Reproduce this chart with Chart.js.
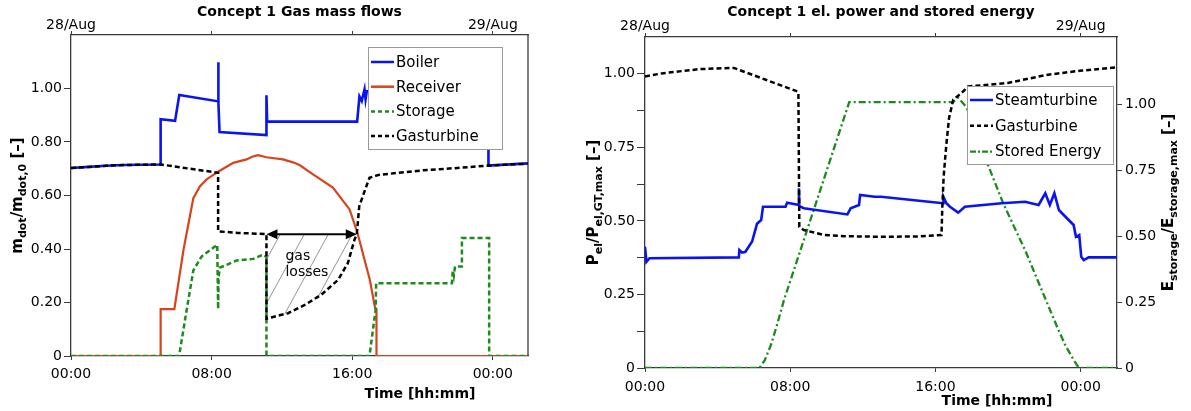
<!DOCTYPE html>
<html>
<head>
<meta charset="utf-8">
<script src="https://cdn.jsdelivr.net/npm/chart.js@4.4.0/dist/chart.umd.min.js"></script>
<style>
    html, body { margin: 0; padding: 0; background: #fff; }
    #wrap { position: relative; width: 1191px; height: 411px; }
    #gasChart { position: absolute; left: 0; top: 0; }
    #powerChart { position: absolute; left: 560px; top: 0; }
</style>
</head>
<body>
<div id="wrap">
    <canvas id="gasChart" width="560" height="411" style="width:560px;height:411px"></canvas>
    <canvas id="powerChart" width="631" height="411" style="width:631px;height:411px"></canvas>
</div>
<script>
// time axis (hours from 28/Aug 00:00)
const hourTicks = [0, 8, 16, 24];
const bottomLabels = ['00:00', '08:00', '16:00', '00:00'];
const topLabels = ['28/Aug', '', '', '29/Aug'];

// --- left chart: gas mass flows ---
const gasTicks = [0, 0.2, 0.4, 0.6, 0.8, 1.0];

const boilerT = [0, 1, 2, 3, 4, 5.1, 5.1, 5.92, 6.16, 8.37, 8.37, 8.4, 8.45, 11.12, 11.12, 11.16, 16.28, 16.41, 16.54, 16.7, 16.76, 16.83, 20, 23.75, 23.75, 26];
const boilerV = [0.703, 0.707, 0.711, 0.714, 0.715, 0.716, 0.885, 0.879, 0.976, 0.952, 1.098, 0.95, 0.837, 0.826, 0.975, 0.876, 0.876, 0.97, 0.953, 0.997, 0.96, 0.99, 1.0, 1.0, 0.712, 0.72];

const receiverT = [0, 5.1, 5.1, 5.88, 6.4, 6.96, 7.34, 7.72, 8.37, 9.23, 9.99, 10.3, 10.64, 11.12, 12.06, 12.63, 13.0, 13.77, 14.9, 15.85, 16.3, 16.7, 17.0, 17.3, 17.38, 17.38, 26];
const receiverV = [0, 0, 0.175, 0.175, 0.397, 0.59, 0.635, 0.66, 0.689, 0.722, 0.735, 0.745, 0.751, 0.743, 0.735, 0.724, 0.714, 0.679, 0.63, 0.548, 0.46, 0.36, 0.285, 0.18, 0.175, 0, 0];

const storageT = [0, 6.15, 6.58, 6.96, 7.43, 8.32, 8.37, 8.4, 8.47, 9.42, 10.36, 10.93, 11.12, 11.12, 16.98, 17.33, 17.36, 21.67, 21.72, 21.78, 21.85, 22.24, 22.24, 23.79, 23.79, 26];
const storageV = [0, 0, 0.172, 0.32, 0.372, 0.416, 0.175, 0.297, 0.33, 0.357, 0.363, 0.379, 0.37, 0, 0, 0.172, 0.272, 0.272, 0.32, 0.3, 0.335, 0.335, 0.441, 0.441, 0, 0];

const gasturbT = [0, 1, 2, 3, 4, 5.1, 8.37, 8.37, 9.5, 11.12, 11.12, 11.5, 12.35, 13.3, 14.24, 15.2, 15.75, 16.13, 16.26, 16.4, 16.75, 16.98, 17.5, 20, 22, 23.75, 26];
const gasturbV = [0.703, 0.707, 0.711, 0.714, 0.715, 0.716, 0.685, 0.466, 0.46, 0.456, 0.14, 0.146, 0.16, 0.191, 0.229, 0.285, 0.347, 0.435, 0.455, 0.56, 0.625, 0.666, 0.677, 0.694, 0.703, 0.712, 0.719];

// gas losses annotation (hours / value)
const lossStart = 11.12;
const lossEnd = 16.26;
const lossLevel = 0.455;

// --- right chart: el. power and stored energy ---
const powerTicks = [0, 0.125, 0.25, 0.375, 0.5, 0.625, 0.75, 0.875, 1.0];
const storeTicks = [0, 0.25, 0.5, 0.75, 1.0];

const steamT = [0, 0.08, 0.25, 5.17, 5.2, 5.35, 5.53, 5.9, 6.17, 6.4, 6.5, 7.74, 7.83, 8.48, 8.48, 8.5, 8.75, 11.15, 11.33, 11.79, 11.85, 12.65, 13.0, 16.42, 16.44, 16.6, 16.8, 17.25, 17.62, 19.65, 20.94, 21.68, 22.05, 22.3, 22.55, 22.8, 22.97, 23.61, 23.74, 23.92, 24.03, 24.17, 24.44, 26];
const steamV = [0.412, 0.361, 0.373, 0.376, 0.401, 0.392, 0.395, 0.43, 0.49, 0.503, 0.548, 0.548, 0.562, 0.554, 0.611, 0.55, 0.543, 0.522, 0.543, 0.554, 0.588, 0.582, 0.582, 0.56, 0.582, 0.56, 0.548, 0.528, 0.548, 0.56, 0.565, 0.554, 0.594, 0.554, 0.594, 0.537, 0.526, 0.486, 0.446, 0.452, 0.378, 0.367, 0.376, 0.376];

const gtT = [0, 1, 2, 3.04, 4.89, 8.39, 8.45, 8.5, 8.75, 9.86, 11, 13, 15, 16.33, 16.38, 16.45, 16.6, 16.75, 16.98, 17.44, 17.8, 19, 20, 22.2, 24.07, 26];
const gtV = [0.991, 1.002, 1.009, 1.016, 1.02, 0.94, 0.935, 0.48, 0.469, 0.452, 0.448, 0.446, 0.447, 0.452, 0.55, 0.65, 0.76, 0.85, 0.912, 0.935, 0.957, 0.963, 0.969, 0.997, 1.011, 1.022];

const storedT = [0, 6.3, 6.6, 6.95, 7.3, 7.65, 9.47, 11.25, 16.97, 17.25, 17.7, 18.9, 19.74, 20.94, 21.86, 22.78, 23.2, 23.52, 23.8, 23.98, 26];
const storedV = [0, 0, 0.03, 0.09, 0.17, 0.257, 0.637, 1.01, 1.01, 1.027, 0.991, 0.77, 0.624, 0.447, 0.295, 0.143, 0.08, 0.042, 0.01, 0, 0];

const BLUE = '#0a14f0';
const RED = '#d8431b';
const GREEN = '#1c8a1c';
const BLACK = '#000';
const AXIS = '#3a3a3a';
const FONT = '"DejaVu Sans", Verdana, sans-serif';

function pts(t, v) {
    return t.map((x, i) => ({ x: x, y: v[i] }));
}

function hatchPattern() {
    const c = document.createElement('canvas');
    c.width = 24;
    c.height = 44;
    const g = c.getContext('2d');
    g.strokeStyle = '#666';
    g.lineWidth = 0.7;
    g.beginPath();
    for (let k = -1; k <= 1; k++) {
        g.moveTo(k * 24, 44);
        g.lineTo(k * 24 + 24, 0);
    }
    g.stroke();
    return g.createPattern(c, 'repeat');
}

// rotated axis title with subscripts
function drawRich(ctx, x, y, parts) {
    ctx.save();
    ctx.translate(x, y);
    ctx.rotate(-Math.PI / 2);
    ctx.textBaseline = 'alphabetic';
    ctx.textAlign = 'left';
    ctx.fillStyle = '#000';
    let total = 0;
    parts.forEach(p => {
        ctx.font = 'bold ' + (p[1] ? 11 : 15) + 'px ' + FONT;
        p.w = ctx.measureText(p[0]).width;
        total += p.w;
    });
    let cx = -total / 2;
    parts.forEach(p => {
        ctx.font = 'bold ' + (p[1] ? 11 : 15) + 'px ' + FONT;
        ctx.fillText(p[0], cx, p[1] ? 4 : 0);
        cx += p.w;
    });
    ctx.restore();
}

function drawLegend(ctx, box, entries) {
    ctx.save();
    ctx.fillStyle = '#fff';
    ctx.fillRect(box.x, box.y, box.w, box.h);
    ctx.strokeStyle = '#9a9a9a';
    ctx.lineWidth = 1;
    ctx.strokeRect(box.x + 0.5, box.y + 0.5, box.w, box.h);
    entries.forEach((e, i) => {
        const y = box.y + box.first + i * box.step;
        ctx.beginPath();
        ctx.setLineDash(e.dash);
        ctx.strokeStyle = e.color;
        ctx.lineWidth = e.width;
        ctx.moveTo(box.x + 3, y);
        ctx.lineTo(box.x + 26, y);
        ctx.stroke();
        ctx.setLineDash([]);
        ctx.fillStyle = '#000';
        ctx.font = '15px ' + FONT;
        ctx.textAlign = 'left';
        ctx.textBaseline = 'middle';
        ctx.fillText(e.label, box.x + 28, y + 1);
    });
    ctx.restore();
}

function timeScales(bottomH, topH, bottomPad, topPad) {
    const tickFont = { family: FONT, size: 14 };
    return {
        x: {
            type: 'linear', position: 'bottom', min: 0, max: 26,
            afterBuildTicks: s => { s.ticks = hourTicks.map(v => ({ value: v })); },
            afterFit: s => { s.height = bottomH; },
            ticks: { callback: (v, i) => bottomLabels[i], font: tickFont, color: '#000', padding: bottomPad, maxRotation: 0, autoSkip: false },
            grid: { drawOnChartArea: false, drawTicks: true, tickLength: 4, tickColor: AXIS },
            border: { display: true, color: AXIS, width: 1.3 }
        },
        xTop: {
            type: 'linear', axis: 'x', position: 'top', min: 0, max: 26,
            afterBuildTicks: s => { s.ticks = hourTicks.map(v => ({ value: v })); },
            afterFit: s => { s.height = topH; },
            ticks: { callback: (v, i) => topLabels[i], font: tickFont, color: '#000', padding: topPad, maxRotation: 0, autoSkip: false },
            grid: { drawOnChartArea: false, drawTicks: true, tickLength: 4, tickColor: AXIS },
            border: { display: true, color: AXIS, width: 1.3 }
        }
    };
}

function yScale(pos, max, list, width, tickLen, pad, labelled) {
    return {
        type: 'linear', position: pos, min: 0, max: max,
        afterBuildTicks: s => { s.ticks = list.map(v => ({ value: v })); },
        afterFit: s => { s.width = width; },
        ticks: {
            callback: v => (labelled(v) ? (v === 0 ? '0' : v.toFixed(2)) : ''),
            font: { family: FONT, size: 14 }, color: '#000', padding: pad, autoSkip: false
        },
        grid: { drawOnChartArea: false, drawTicks: true, tickLength: tickLen, tickColor: AXIS },
        border: { display: true, color: AXIS, width: 1.3 }
    };
}

function line(label, data, color, width, dash, yAxisID) {
    return {
        label: label, data: data, borderColor: color, backgroundColor: color,
        borderWidth: width, borderDash: dash, pointRadius: 0, fill: false,
        tension: 0, yAxisID: yAxisID
    };
}

// ---------- left chart ----------
const gasHatch = pts(gasturbT, gasturbV).filter(p => p.x >= lossStart && p.x <= lossEnd);

const gasLegend = [
    { label: 'Boiler', color: BLUE, width: 2.5, dash: [] },
    { label: 'Receiver', color: RED, width: 2.5, dash: [] },
    { label: 'Storage', color: GREEN, width: 2.5, dash: [4, 3] },
    { label: 'Gasturbine', color: BLACK, width: 2.5, dash: [4, 3] }
];

const gasDeco = {
    id: 'gasDeco',
    afterDraw(chart) {
        const ctx = chart.ctx, a = chart.chartArea;
        const xs = chart.scales.x, ys = chart.scales.y;
        ctx.save();
        // right frame
        ctx.strokeStyle = AXIS;
        ctx.lineWidth = 1.3;
        ctx.beginPath();
        ctx.moveTo(a.right, a.top);
        ctx.lineTo(a.right, a.bottom);
        ctx.stroke();
        // titles
        ctx.fillStyle = '#000';
        ctx.textAlign = 'center';
        ctx.textBaseline = 'middle';
        ctx.font = 'bold 14px ' + FONT;
        ctx.fillText('Concept 1 Gas mass flows', (a.left + a.right) / 2, 12);
        ctx.fillText('Time [hh:mm]', 420, 394);
        drawRich(ctx, 22, (a.top + a.bottom) / 2, [['m', 0], ['dot', 1], ['/', 0], ['m', 0], ['dot,0', 1], [' [\u2013]', 0]]);
        // gas losses arrow
        const x0 = xs.getPixelForValue(lossStart), x1 = xs.getPixelForValue(lossEnd);
        const y = ys.getPixelForValue(lossLevel);
        ctx.strokeStyle = '#000';
        ctx.lineWidth = 2;
        ctx.beginPath();
        ctx.moveTo(x0 + 8, y);
        ctx.lineTo(x1 - 8, y);
        ctx.stroke();
        ctx.fillStyle = '#000';
        ctx.beginPath();
        ctx.moveTo(x0, y); ctx.lineTo(x0 + 11, y - 5); ctx.lineTo(x0 + 11, y + 5); ctx.closePath();
        ctx.moveTo(x1, y); ctx.lineTo(x1 - 11, y - 5); ctx.lineTo(x1 - 11, y + 5); ctx.closePath();
        ctx.fill();
        ctx.font = '14px ' + FONT;
        ctx.textAlign = 'left';
        ctx.fillText('gas', xs.getPixelForValue(12.2), ys.getPixelForValue(0.372));
        ctx.fillText('losses', xs.getPixelForValue(12.2), ys.getPixelForValue(0.312));
        ctx.restore();
        drawLegend(ctx, { x: 368, y: 47, w: 134, h: 102, first: 15, step: 24.7 }, gasLegend);
    }
};

new Chart(document.getElementById('gasChart'), {
    type: 'line',
    data: {
        datasets: [
            line('Gasturbine', pts(gasturbT, gasturbV), BLACK, 2.5, [5, 3], 'y'),
            line('Storage', pts(storageT, storageV), GREEN, 2.5, [5, 3], 'y'),
            line('Receiver', pts(receiverT, receiverV), RED, 2.2, [], 'y'),
            line('Boiler', pts(boilerT, boilerV), BLUE, 2.6, [], 'y'),
            {
                label: 'gas losses', data: gasHatch, borderWidth: 0, borderColor: 'rgba(0,0,0,0)',
                backgroundColor: hatchPattern(), pointRadius: 0, fill: { value: lossLevel }, yAxisID: 'y'
            }
        ]
    },
    options: {
        responsive: false,
        animation: false,
        devicePixelRatio: 1,
        events: [],
        layout: { padding: { left: 0, right: 32, top: 0, bottom: 0 } },
        plugins: { legend: { display: false }, tooltip: { enabled: false } },
        scales: Object.assign(timeScales(55, 35, 6, -3), {
            y: yScale('left', 1.2, gasTicks, 71, 7, 2, () => true)
        })
    },
    plugins: [gasDeco]
});

// ---------- right chart ----------
const powerLegend = [
    { label: 'Steamturbine', color: BLUE, width: 2.5, dash: [] },
    { label: 'Gasturbine', color: BLACK, width: 2.5, dash: [4, 3] },
    { label: 'Stored Energy', color: GREEN, width: 2.2, dash: [6, 2, 2, 2] }
];

const powerDeco = {
    id: 'powerDeco',
    afterDraw(chart) {
        const ctx = chart.ctx, a = chart.chartArea;
        ctx.save();
        ctx.fillStyle = '#000';
        ctx.textAlign = 'center';
        ctx.textBaseline = 'middle';
        ctx.font = 'bold 14px ' + FONT;
        ctx.fillText('Concept 1 el. power and stored energy', (a.left + a.right) / 2, 12);
        ctx.fillText('Time [hh:mm]', 437, 401);
        drawRich(ctx, 38, (a.top + a.bottom) / 2, [['P', 0], ['el', 1], ['/', 0], ['P', 0], ['el,GT,max', 1], [' [\u2013]', 0]]);
        drawRich(ctx, 613, (a.top + a.bottom) / 2, [['E', 0], ['storage', 1], ['/', 0], ['E', 0], ['storage,max', 1], [' [\u2013]', 0]]);
        ctx.restore();
        drawLegend(ctx, { x: 407, y: 86, w: 146, h: 78, first: 14, step: 25.8 }, powerLegend);
    }
};

new Chart(document.getElementById('powerChart'), {
    type: 'line',
    data: {
        datasets: [
            line('Gasturbine', pts(gtT, gtV), BLACK, 2.5, [5, 3], 'y'),
            line('Steamturbine', pts(steamT, steamV), BLUE, 2.6, [], 'y'),
            line('Stored Energy', pts(storedT, storedV), GREEN, 2.3, [7, 3, 2, 3], 'y2')
        ]
    },
    options: {
        responsive: false,
        animation: false,
        devicePixelRatio: 1,
        events: [],
        layout: { padding: 0 },
        plugins: { legend: { display: false }, tooltip: { enabled: false } },
        scales: Object.assign(timeScales(43, 37, 7, -2), {
            y: yScale('left', 1.125, powerTicks, 85, 8, 2, v => Math.abs(v * 4 - Math.round(v * 4)) < 1e-6),
            y2: yScale('right', 1.257, storeTicks, 74, 5, 3, () => true)
        })
    },
    plugins: [powerDeco]
});
</script>
</body>
</html>
